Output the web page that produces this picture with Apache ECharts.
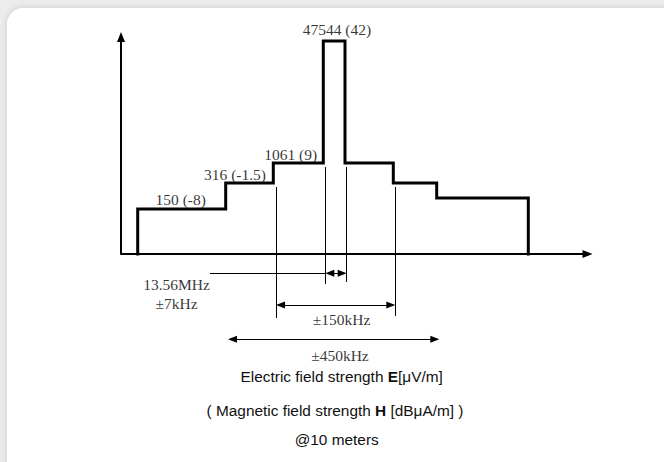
<!DOCTYPE html>
<html>
<head>
<meta charset="utf-8">
<script src="https://cdn.jsdelivr.net/npm/echarts@6/dist/echarts.min.js"></script>
<style>
  html, body { margin: 0; padding: 0; width: 664px; height: 462px; overflow: hidden; background: #ececec; }
  #card { position: absolute; left: 7px; top: 8px; width: 690px; height: 490px; background: #fff;
          border-radius: 16px; box-shadow: 0 0 6px 1px rgba(0,0,0,0.10); }
  #chart { position: absolute; left: 0; top: 0; width: 664px; height: 462px; }
</style>
</head>
<body>
<div id="card"></div>
<div id="chart"></div>
<script>
// ---- data (schematic units: x = position along frequency axis, y = mask level) ----
const stepEdges   = [16.7, 104.7, 152.3, 202.3, 224, 272.3, 315.7, 407.3];
const stepLevels  = [45, 71, 91, 213, 91, 71, 56];
const levelLabels = ['150 (-8)', '316 (-1.5)', '1061 (9)', '47544 (42)'];

const guideX      = [155, 204.3, 225.7, 274.3];
const guideTop    = [67, 87, 87, 67];
const guideBottom = [-64, -30, -28, -62];

const carrierLabel = ['13.56MHz', '±7kHz'];
const carrierLeaderStart = 89;
const bandLabels  = ['±7kHz', '±150kHz', '±450kHz'];
const bandFrom    = [204.3, 155, 107];
const bandTo      = [225.7, 274.3, 318.3];
const bandRow     = [-19.3, -51, -85.3];

const captions = [
  'Electric field strength {b|E}[μV/m]',
  '( Magnetic field strength {b|H} [dBμA/m] )',
  '@10 meters'
];

const xMax = 466.5, yMax = 223, yMin = -96, yAxisTop = 217;

// ---- build ----
const stepPts = [[stepEdges[0], 0]];
for (let i = 0; i < stepLevels.length; i++) {
  stepPts.push([stepEdges[i], stepLevels[i]]);
  stepPts.push([stepEdges[i + 1], stepLevels[i]]);
}
stepPts.push([stepEdges[stepEdges.length - 1], 0]);

const arrowSize = [7, 9];
const half = arrowSize[1] / 2;
const thin = { color: '#000', width: 1, type: 'solid' };

const markLines = [];
// y axis with arrow
markLines.push([
  { coord: [0, 0], symbol: 'none', lineStyle: { color: '#000', width: 2, type: 'solid' } },
  { coord: [0, yAxisTop], symbol: 'triangle', symbolSize: [8, 10] }
]);
// guide lines
guideX.forEach((x, i) => {
  markLines.push([
    { coord: [x, guideTop[i]], symbol: 'none', lineStyle: thin },
    { coord: [x, guideBottom[i]], symbol: 'none' }
  ]);
});
// carrier leader line
markLines.push([
  { coord: [carrierLeaderStart, bandRow[0]], symbol: 'none', lineStyle: thin },
  { coord: [bandFrom[0], bandRow[0]], symbol: 'none' }
]);
// dimension arrows
bandFrom.forEach((f, i) => {
  markLines.push([
    { coord: [f + half, bandRow[i]], symbol: 'triangle', symbolSize: arrowSize, lineStyle: thin },
    { coord: [bandTo[i] - half, bandRow[i]], symbol: 'triangle', symbolSize: arrowSize }
  ]);
});

const serif = 'Liberation Serif';
const sans = 'Liberation Sans';
const labelBase = { show: true, position: 'inside', color: '#000', fontFamily: serif, fontSize: 15.5,
                    textBorderWidth: 0, align: 'center', verticalAlign: 'middle' };

const levelOffsets = [[-1, -10], [-14.5, -9], [-7.6, -9], [2.8, -12]];
const textPts = levelLabels.map((t, i) => ({
  name: t,
  value: [(stepEdges[i] + stepEdges[i + 1]) / 2, stepLevels[i]],
  label: Object.assign({}, labelBase, { offset: levelOffsets[i] })
}));
textPts.push({
  name: carrierLabel.join('\n'),
  value: [carrierLeaderStart, bandRow[0]],
  label: Object.assign({}, labelBase, { offset: [-33.5, 20.2], lineHeight: 19 })
});
const bandOffsets = [null, [6, 14], [6.3, 15.7]];
for (let i = 1; i < bandLabels.length; i++) {
  textPts.push({
    name: bandLabels[i],
    value: [(bandFrom[i] + bandTo[i]) / 2, bandRow[i]],
    label: Object.assign({}, labelBase, { offset: bandOffsets[i] })
  });
}

const captionPos = [[341.7, 376.7], [335, 410], [336.7, 439]];
const rich = { b: { fontWeight: 'bold', fontFamily: sans, fontSize: 15.4, fill: '#111' } };

const chart = echarts.init(document.getElementById('chart'), null, { renderer: 'svg' });
chart.setOption({
  animation: false,
  backgroundColor: 'transparent',
  grid: { left: 121, right: 664 - 121 - xMax, top: 31, bottom: 462 - 31 - (yMax - yMin) },
  xAxis: {
    type: 'value', min: 0, max: xMax,
    axisLine: { show: true, onZero: true, symbol: ['none', 'triangle'], symbolSize: [8, 10],
                lineStyle: { color: '#000', width: 2 } },
    axisTick: { show: false }, axisLabel: { show: false }, splitLine: { show: false }
  },
  yAxis: {
    type: 'value', min: yMin, max: yMax,
    axisLine: { show: false }, axisTick: { show: false }, axisLabel: { show: false }, splitLine: { show: false }
  },
  series: [
    {
      type: 'line', data: stepPts, symbol: 'none', silent: true, clip: false,
      lineStyle: { color: '#000', width: 3, join: 'miter', cap: 'square' },
      markLine: { silent: true, animation: false, label: { show: false }, emphasis: { disabled: true },
                  data: markLines }
    },
    {
      type: 'scatter', data: textPts, symbolSize: 0, silent: true, clip: false,
      itemStyle: { color: 'transparent' },
      label: { show: true, formatter: p => p.name }
    }
  ],
  graphic: captions.map((c, i) => ({
    type: 'text', x: captionPos[i][0], y: captionPos[i][1], silent: true,
    style: { text: c, fontFamily: sans, fontSize: 15.4, fill: '#111', align: 'center', verticalAlign: 'middle', rich }
  }))
});
</script>
</body>
</html>
